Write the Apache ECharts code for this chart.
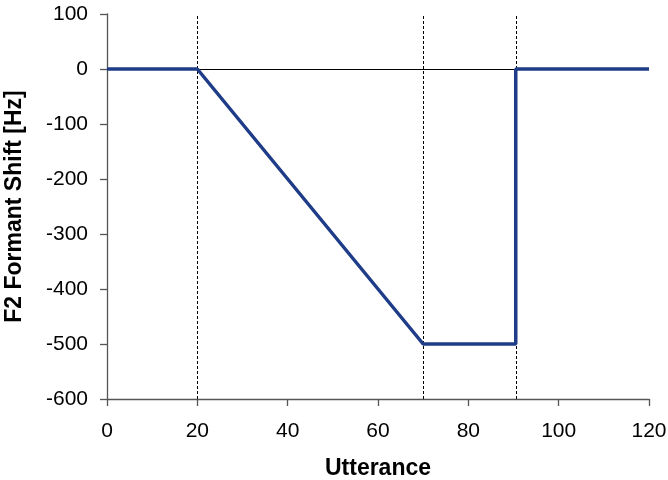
<!DOCTYPE html>
<html><head><meta charset="utf-8">
<script src="https://cdn.jsdelivr.net/npm/echarts@6/dist/echarts.min.js"></script>
<style>html,body{margin:0;padding:0;background:#fff}#c{width:668px;height:480px}</style>
</head><body><div id="c"></div>
<script>
var shiftX = [0, 20, 70, 90.5, 90.5, 120];
var shiftY = [0, 0, -500, -500, 0, 0];
var phaseBounds = [20, 70, 90.5];
var xTicks = {min: 0, max: 120, interval: 20};
var yTicks = {min: -600, max: 100, interval: 100};

var chart = echarts.init(document.getElementById('c'));
var font = '"Liberation Sans", Arial, sans-serif';
chart.setOption({
  animation: false,
  grid: {left: 107, right: 19, top: 14, bottom: 81, containLabel: false, outerBoundsMode: 'none'},
  xAxis: {
    type: 'value', min: xTicks.min, max: xTicks.max, interval: xTicks.interval,
    name: 'Utterance', nameLocation: 'middle', nameGap: 58,
    nameTextStyle: {fontFamily: font, fontSize: 23, fontWeight: 'bold', color: '#000'},
    axisLine: {onZero: false, lineStyle: {color: '#555', width: 1.3}},
    axisTick: {show: true, length: 7, lineStyle: {color: '#555', width: 1.3}},
    axisLabel: {fontFamily: font, fontSize: 21, color: '#000', margin: 22},
    splitLine: {show: false}
  },
  yAxis: {
    type: 'value', min: yTicks.min, max: yTicks.max, interval: yTicks.interval,
    name: 'F2 Formant Shift [Hz]', nameLocation: 'middle', nameGap: 81, nameRotate: 90,
    nameTextStyle: {fontFamily: font, fontSize: 23, fontWeight: 'bold', color: '#000'},
    axisLine: {show: true, onZero: false, lineStyle: {color: '#555', width: 1.3}},
    axisTick: {show: true, length: 7, lineStyle: {color: '#555', width: 1.3}},
    axisLabel: {fontFamily: font, fontSize: 21, color: '#000', margin: 19},
    splitLine: {show: false}
  },
  series: [{
    type: 'line',
    data: shiftX.map(function (x, i) { return [x, shiftY[i]]; }),
    showSymbol: false,
    lineStyle: {color: '#1f3c88', width: 3.5},
    z: 5,
    markLine: {
      silent: true, symbol: 'none', label: {show: false},
      data: phaseBounds.map(function (v) {
        return {xAxis: v, lineStyle: {color: '#000', type: [3, 2], width: 1}};
      }).concat([{yAxis: 0, lineStyle: {color: '#000', type: 'solid', width: 1}}])
    }
  }]
});
</script></body></html>
